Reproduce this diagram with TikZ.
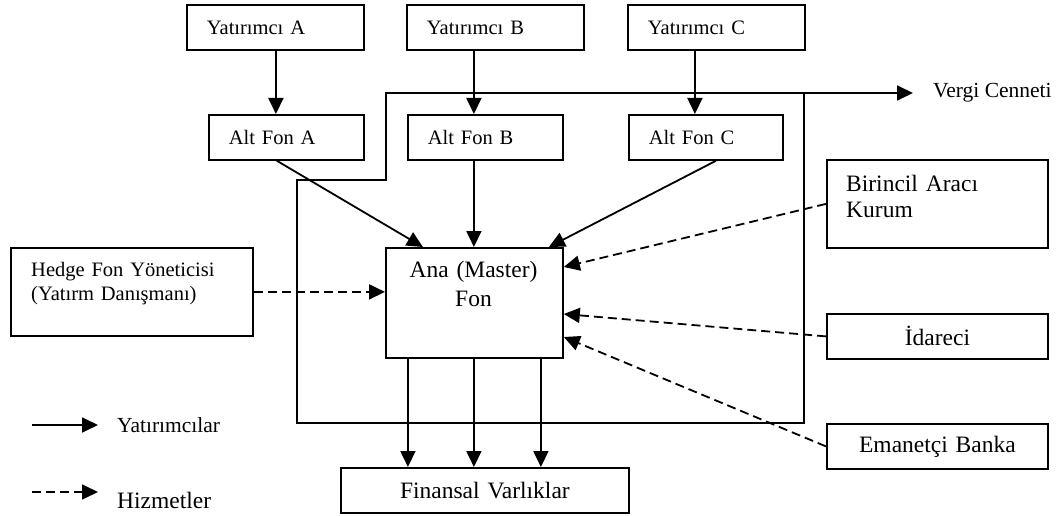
\documentclass[tikz,border=0pt]{standalone}
\usepackage{fontspec}
\setmainfont{Liberation Serif}
\usetikzlibrary{arrows.meta}

\newcommand\kucuk{\fontsize{20.5}{24}\selectfont}
\newcommand\orta{\fontsize{21.5}{25}\selectfont}
\newcommand\buyuk{\fontsize{23.5}{29}\selectfont}

\tikzset{
    kutu/.style={draw, line width=1.8pt, anchor=north west, inner ysep=0pt, minimum height=45pt},
    solkutu/.style={kutu, align=left, inner xsep=20pt, text width=#1, font=\kucuk},
    ortakutu/.style={kutu, align=center, inner xsep=0pt, text width=#1, font=\buyuk},
    yazi/.style={inner sep=0pt},
    solok/.style={line width=1.8pt, -{Triangle[length=16pt,width=15pt]}},
    hizok/.style={solok, dash pattern=on 9pt off 5pt},
}

\begin{document}
\begin{tikzpicture}[x=1pt, y=-1pt]
    \useasboundingbox (0,0) rectangle (1060,516);

    % yatirimcilar ve alt fonlar
    \node[solkutu=137pt] (yatA) at (186,4) {Yatırımcı A};
    \node[solkutu=137pt] (yatB) at (406,4) {Yatırımcı B};
    \node[solkutu=137pt] (yatC) at (627,4) {Yatırımcı C};
    \node[solkutu=115pt] (altA) at (208,114) {Alt Fon A};
    \node[solkutu=115pt] (altB) at (407,114) {Alt Fon B};
    \node[solkutu=114pt] (altC) at (628,114) {Alt Fon C};

    % ana fon
    \node[kutu, minimum width=177pt, minimum height=110pt] (ana) at (385,247) {};
    \node[yazi, anchor=base, align=center, text width=170pt, font=\buyuk] (anaYazi) at (473.5,277) {Ana (Master)\\Fon};

    \node[kutu, minimum width=242pt, minimum height=88pt] (hedge) at (10,247) {};
    \node[yazi, anchor=base west, align=left, text width=225pt, font=\kucuk] (hedgeYazi) at (31,276) {Hedge Fon Yöneticisi\\(Yatırm Danışmanı)};

    \node[kutu, minimum width=221pt, minimum height=88pt] (birincil) at (826,159) {};
    \node[yazi, anchor=base west, align=left, text width=195pt, font=\fontsize{23.5}{26}\selectfont] (birincilYazi) at (846,191) {Birincil Aracı\\Kurum};

    \node[ortakutu=221pt] (idareci) at (826,313) {İdareci};
    \node[ortakutu=221pt] (emanetci) at (826,423) {Emanetçi Banka};
    \node[ortakutu=288pt] (fin) at (340,467) {Finansal Varlıklar};

    % vergi cenneti cercevesi
    \draw[line width=1.8pt] (297,423) -- (297,180) -- (386,180) -- (386,93) -- (804,93) -- (804,423) -- cycle;
    \coordinate (cerceve) at (804,93);
    \node[yazi, anchor=west, font=\orta] (vergi) at (933,93) {Vergi Cenneti};
    \draw[solok, shorten >=20pt] (cerceve) -- (vergi.west);

    % yatirim oklari
    \draw[solok] ([xshift=0.5pt]yatA.south) -- ([xshift=0.5pt]yatA.south |- altA.north);
    \draw[solok] ([xshift=-21.5pt]yatB.south) -- ([xshift=-21.5pt]yatB.south |- altB.north);
    \draw[solok] ([xshift=-21.5pt]yatC.south) -- ([xshift=-21.5pt]yatC.south |- altC.north);
    \draw[solok] ([xshift=-9.5pt]altA.south) -- ([xshift=-51.5pt]ana.north);
    \draw[solok] ([xshift=-11.5pt]altB.south) -- ([xshift=-11.5pt]altB.south |- ana.north);
    \draw[solok] ([xshift=10pt]altC.south) -- ([xshift=74.5pt]ana.north);
    \foreach \dx in {-66.5, -0.5, 66.5} {
        \draw[solok] ([xshift=\dx pt]ana.south) -- ([xshift=\dx pt]ana.south |- fin.north);
    }

    % hizmet oklari
    \draw[hizok] (hedge.east) -- (hedge.east -| ana.west);
    \draw[hizok] (birincil.west) -- ([yshift=-20pt]ana.north east);
    \draw[hizok] (idareci.west) -- ([yshift=-67pt]ana.north east);
    \draw[hizok] (emanetci.west) -- ([yshift=-90pt]ana.north east);

    % lejant
    \coordinate (lejA) at (32,425);
    \coordinate (lejB) at (32,492);
    \node[yazi, anchor=west, font=\orta] (lejYat) at (117,425) {Yatırımcılar};
    \node[yazi, anchor=base west, font=\buyuk] (lejHiz) at (117,508) {Hizmetler};
    \draw[solok] (lejA) -- ++(66,0);
    \draw[hizok] (lejB) -- ++(66,0);
\end{tikzpicture}
\end{document}
